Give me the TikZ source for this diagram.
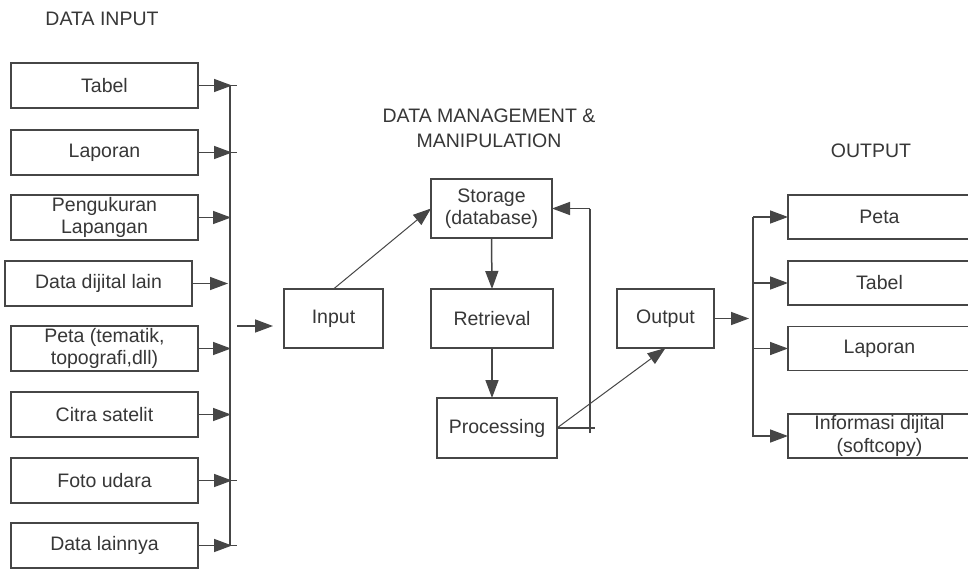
\documentclass[tikz,border=0pt]{standalone}
\usepackage{fontspec}
\setmainfont{Liberation Sans}
\usetikzlibrary{arrows.meta}
\definecolor{ink}{RGB}{70,70,70}
\definecolor{txt}{RGB}{55,55,55}
\tikzset{
  box/.style={draw=ink, line width=1.6pt, inner sep=0pt, outer sep=0pt,
    text=txt, align=center, font=\fontsize{19.5}{22.5}\selectfont},
  lbox/.style={box, minimum width=187pt, minimum height=45pt},
  rbox/.style={box, minimum width=183pt, minimum height=44pt},
  mbox/.style={box, minimum height=59pt},
  title/.style={text=txt, align=center, font=\fontsize{19.5}{25}\selectfont, inner sep=0pt},
  wire/.style={draw=ink, line width=1.5pt},
  arr/.style={wire, -{Triangle[length=18pt,width=13pt]}},
  slant/.style={draw=ink, line width=1pt, -{Triangle[length=18pt,width=13pt]}}
}
\begin{document}
\begin{tikzpicture}[x=1pt,y=-1pt]
\fill[white] (0,0) rectangle (968,570);
\clip (0,0) rectangle (968,570);
\useasboundingbox (0,0) rectangle (968,570);

% section titles
\node[title] (tin)  at (102,18.5) {DATA INPUT};
\node[title] (tman) at (489,128) {DATA MANAGEMENT \&\\MANIPULATION};
\node[title] (tout) at (871,151) {OUTPUT};

% input sources
\node[lbox] (s1) at (104.5,85.5)  {Tabel};
\node[lbox] (s2) at (104.5,152.5) {Laporan};
\node[lbox] (s3) at (104.5,217.5) {Pengukuran\\Lapangan};
\node[lbox] (s4) at (98.5,283.5)  {Data dijital lain};
\node[lbox] (s5) at (104.5,348.5) {Peta (tematik,\\topografi,dll)};
\node[lbox] (s6) at (104.5,414.5) {Citra satelit};
\node[lbox] (s7) at (104.5,480.5) {Foto udara};
\node[lbox] (s8) at (104.5,545.5) {Data lainnya};

% collecting bus
\coordinate (bt) at (230,85.5);
\coordinate (bb) at (230,545.5);
\draw[wire] (bt) -- (bb);
\foreach \s in {s1,s2,s7,s8}{
  \draw[arr] (\s.east) -- ([xshift=2pt]\s.east -| bt);
  \draw[wire] (\s.east -| bt) -- ([xshift=7pt]\s.east -| bt);
}
\foreach \s in {s3,s5,s6}{
  \draw[arr] (\s.east) -- ([xshift=1pt]\s.east -| bt);
}
\draw[arr] (s4.east) -- ([xshift=-2pt]s4.east -| bt);

% management and manipulation
\node[mbox, minimum width=99pt]  (input)  at (333.5,318.5) {Input};
\node[mbox, minimum width=121pt] (store)  at (491.5,208.5) {Storage\\(database)};
\node[mbox, minimum width=122pt] (retr)   at (492,318.5)   {Retrieval};
\node[mbox, minimum width=120pt, minimum height=60pt] (proc) at (497,428) {Processing};
\node[mbox, minimum width=97pt]  (output) at (665.5,318.5) {Output};

\coordinate (inb) at (237,326);
\draw[arr] (inb) -- ([xshift=-11pt]input.west |- inb);
\draw[slant] (input.north) -- (store.west);
\draw[arr] (store.south) -- (retr.north);
\draw[arr] (retr.south) -- (retr.south |- proc.north);

% feedback loop from processing to storage
\coordinate (lt) at (590,208.5);
\coordinate (lb) at (590,433);
\draw[wire] (lb) -- (lt);
\draw[arr] (lt) -- (store.east);
\draw[wire] (proc.east) -- ([xshift=38pt]proc.east);
\draw[slant] (proc.east) -- (output.south);

% output products
\node[rbox] (o1) at (879.5,217)   {Peta};
\node[rbox] (o2) at (879.5,283)   {Tabel};
\node[rbox] (o3) at (879.5,348.5) {Laporan};
\node[rbox] (o4) at (879.5,436)   {Informasi dijital\\(softcopy)};

\coordinate (ot) at (753,217);
\coordinate (ob) at (753,437);
\draw[wire] (ot) -- (ob);
\draw[arr] (output.east) -- ([xshift=-4pt]output.east -| ot);
\foreach \o in {o1,o2,o3,o4}{
  \draw[arr] (\o.west -| ot) -- (\o.west);
}
\end{tikzpicture}
\end{document}
